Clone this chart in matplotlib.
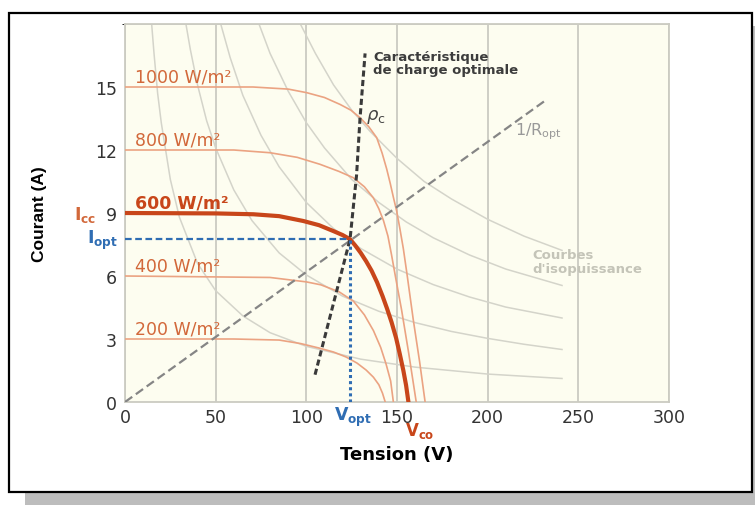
import matplotlib
matplotlib.use("Agg")
import matplotlib.pyplot as plt
from matplotlib.patches import Rectangle

# I-V curves (V in volts, I in amps)
v_200 = [0, 60, 85, 97, 107, 115, 122, 128, 133, 137, 140, 142, 143.5]
i_200 = [3.0, 3.0, 2.95, 2.78, 2.57, 2.38, 2.14, 1.85, 1.52, 1.18, 0.82, 0.42, 0]

v_400 = [0, 80, 100, 108, 118, 126, 132, 137, 141, 144, 146.5, 148]
i_400 = [6.0, 5.93, 5.72, 5.58, 5.25, 4.8, 4.15, 3.4, 2.6, 1.8, 1.0, 0]

v_600 = [0, 50, 70.8, 85, 98.3, 107, 114.9, 120, 124.1, 127, 130, 133, 136, 139, 142, 144.5, 147, 149.5, 151.5, 153.5, 155, 156.3]
i_600 = [9.0, 8.98, 8.94, 8.85, 8.62, 8.42, 8.14, 7.95, 7.75, 7.45, 7.1, 6.7, 6.25, 5.7, 5.05, 4.45, 3.8, 3.05, 2.3, 1.5, 0.8, 0]

v_800 = [0, 60, 80, 95, 107.5, 118, 125.9, 132, 136.9, 140, 142.5, 145, 147, 149.5, 152.5, 156.5, 160.6]
i_800 = [12.0, 12.0, 11.87, 11.65, 11.32, 10.98, 10.68, 10.25, 9.73, 9.2, 8.65, 7.9, 7.0, 5.8, 4.4, 2.3, 0]

v_1000 = [0, 70.6, 90, 100.2, 110, 118.6, 124.5, 129.6, 134.5, 138.8, 141.8, 144.3, 146.3, 148, 149.8, 151.5, 153.5, 155.5, 159, 162.5, 165.5]
i_1000 = [15.0, 15.0, 14.9, 14.73, 14.5, 14.17, 13.9, 13.54, 13.1, 12.59, 11.85, 11.1, 10.4, 9.75, 9.1, 8.3, 7.3, 6.1, 3.9, 1.9, 0]

irradiance_labels = ["200 W/m²", "400 W/m²", "600 W/m²", "800 W/m²", "1000 W/m²"]
isc = [3, 6, 9, 12, 15]

# iso-power curves (light grey)
iso_v = [
    [14.7, 16, 18, 20, 25, 30, 40, 50, 65, 80, 100, 130, 160, 200, 241],
    [33.6, 36, 40, 45, 50, 60, 70, 85, 100, 120, 140, 160, 180, 200, 220, 241],
    [52.8, 58, 65, 75, 85, 100, 115, 130, 150, 170, 190, 210, 241],
    [73.9, 80, 90, 100, 110, 125, 140, 155, 170, 190, 210, 241],
    [96.7, 105, 115, 125, 135, 150, 165, 180, 200, 220, 241],
]
iso_i = [
    [18, 16.6, 14.7, 13.3, 10.6, 8.8, 6.6, 5.3, 4.1, 3.3, 2.65, 2.04, 1.66, 1.33, 1.12],
    [18, 16.8, 15.1, 13.4, 12.1, 10.1, 8.64, 7.1, 6.05, 5.04, 4.32, 3.78, 3.36, 3.03, 2.75, 2.5],
    [18, 16.4, 14.6, 12.7, 11.2, 9.5, 8.26, 7.31, 6.33, 5.59, 5.0, 4.52, 4.0],
    [18, 16.6, 14.8, 13.3, 12.1, 10.6, 9.5, 8.58, 7.82, 7.0, 6.33, 5.55],
    [18, 16.6, 15.1, 13.9, 12.9, 11.6, 10.5, 9.67, 8.7, 7.9, 7.22],
]

# load lines
r_opt_v = [0, 232.5]
r_opt_i = [0, 14.4]
charge_v = [104.8, 124.1, 127.7, 129.6, 132.4]
charge_i = [1.3, 7.75, 10.8, 13.5, 16.6]

v_opt = 124.1
i_opt = 7.75

x_ticks = [0, 50, 100, 150, 200, 250, 300]
y_ticks = [0, 3, 6, 9, 12, 15]

thin_col = "#eba382"
label_col = "#d2683a"
thick_col = "#c8461a"
blue = "#2f6db3"
grid_col = "#cbcbc2"

fig = plt.figure(figsize=(7.55, 5.06), dpi=100)
fig.add_artist(Rectangle((25 / 755, 0), 730 / 755, 479 / 506, transform=fig.transFigure,
                         facecolor="#bdbdbd", edgecolor="none", zorder=-2))
fig.add_artist(Rectangle((9 / 755, 13 / 506), 743 / 755, 479 / 506, transform=fig.transFigure,
                         facecolor="white", edgecolor="black", lw=1.6, zorder=-1))

ax = fig.add_axes([125 / 755, 103 / 506, 544 / 755, 378 / 506])
ax.set_zorder(1)
ax.set_facecolor("#fdfdf0")
ax.set_xlim(0, 300)
ax.set_ylim(0, 18)
ax.set_xticks(x_ticks)
ax.set_yticks(y_ticks)
ax.tick_params(length=0, labelsize=12.5, labelcolor="#333333")
ax.tick_params(axis="y", pad=6)
ax.tick_params(axis="x", pad=4)
ax.set_yticks([0, 3, 6, 9, 12, 15, 18], minor=True)
ax.grid(True, which="minor", axis="y", color=grid_col, lw=1.3)
ax.grid(True, which="major", axis="x", color=grid_col, lw=1.3)
ax.set_axisbelow(True)
for sp in ax.spines.values():
    sp.set_color(grid_col)
    sp.set_linewidth(1.3)

for vv, ii in zip(iso_v, iso_i):
    ax.plot(vv, ii, color="#d4d4ca", lw=1.1, zorder=2)

ax.plot(v_200, i_200, color=thin_col, lw=1.2, zorder=3)
ax.plot(v_400, i_400, color=thin_col, lw=1.2, zorder=3)
ax.plot(v_800, i_800, color=thin_col, lw=1.2, zorder=3)
ax.plot(v_1000, i_1000, color=thin_col, lw=1.2, zorder=3)
ax.plot(v_600, i_600, color=thick_col, lw=3, zorder=4)

ax.plot(r_opt_v, r_opt_i, color="#858585", lw=1.6, dashes=(4, 2), zorder=5)
ax.plot(charge_v, charge_i, color="#3a3a3a", lw=2.2, dashes=(2, 1.1), zorder=5)

ax.plot([0, v_opt], [i_opt, i_opt], color=blue, lw=1.6, dashes=(3, 1.6), zorder=6)
ax.plot([v_opt, v_opt], [0, i_opt], color=blue, lw=2.2, linestyle=(0, (1, 1)), zorder=6)

for lab, s in zip(irradiance_labels, isc):
    bold = s == 9
    ax.text(5.5, s + 0.5, lab, fontsize=12.5, va="center", ha="left",
            color=thick_col if bold else label_col,
            fontweight="bold" if bold else "normal", zorder=7)

ax.text(136.8, 16.45, "Caractéristique", fontsize=9.5, fontweight="bold",
        color="#3c3c3c", va="center", ha="left")
ax.text(136.8, 15.85, "de charge optimale", fontsize=9.5, fontweight="bold",
        color="#3c3c3c", va="center", ha="left")
ax.text(133, 13.6, r"$\rho_{\rm c}$", fontsize=13, color="#444444", va="center", ha="left")
ax.text(215, 12.9, r"1/R$_{\rm opt}$", fontsize=11.5, color="#999999", va="center", ha="left")
ax.text(224.5, 7.0, "Courbes", fontsize=9.5, fontweight="bold", color="#c4c4b8",
        va="center", ha="left")
ax.text(224.5, 6.35, "d'isopuissance", fontsize=9.5, fontweight="bold", color="#c4c4b8",
        va="center", ha="left")

ax.text(-22.1, 8.95, r"$\mathbf{I}_{\mathbf{cc}}$", fontsize=12.5, color=label_col,
        ha="center", va="center", clip_on=False)
ax.text(-12.1, 7.76, r"$\mathbf{I}_{\mathbf{opt}}$", fontsize=12.5, color=blue,
        ha="center", va="center", clip_on=False)
ax.text(126, -0.67, r"$\mathbf{V}_{\mathbf{opt}}$", fontsize=12.5, color=blue,
        ha="center", va="center", clip_on=False)
ax.text(162.7, -1.35, r"$\mathbf{V}_{\mathbf{co}}$", fontsize=12, color=thick_col,
        ha="center", va="center", clip_on=False)

ax.set_xlabel("Tension (V)", fontsize=13, fontweight="bold", labelpad=14)
ax.set_ylabel("Courant (A)", fontsize=12.5, fontweight="bold", family="Liberation Sans",
              labelpad=34)

fig.savefig("out.png", dpi=100)
